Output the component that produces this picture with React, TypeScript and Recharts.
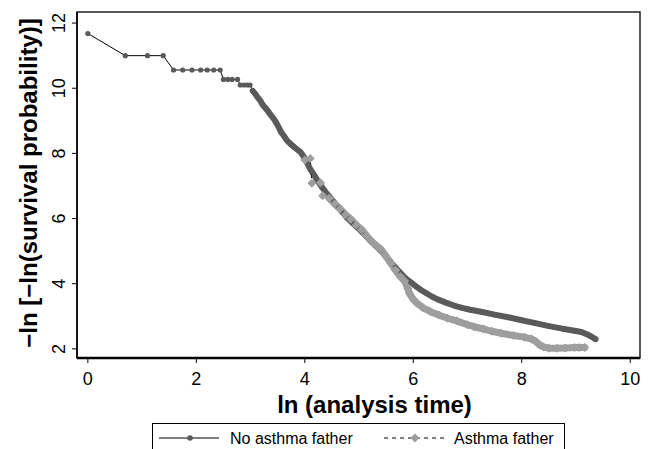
import React from 'react';
import { ComposedChart, Line, XAxis, YAxis, ReferenceArea } from 'recharts';

// ln(analysis time) and -ln[-ln(S)]
const noAsthmaTime = [
  0.0, 0.69, 1.1, 1.39, 1.58, 1.75, 1.92, 2.08, 2.2, 2.32, 2.44, 2.5, 2.58, 2.66, 2.76,
  2.81, 2.88, 2.94, 2.99, 3.04, 3.09, 3.13, 3.18, 3.22, 3.27, 3.32, 3.37, 3.42, 3.47,
  3.52, 3.56, 3.61, 3.67, 3.73, 3.8, 3.86, 3.92, 3.98, 4.04, 4.1, 4.17, 4.24, 4.31,
  4.38, 4.45, 4.53, 4.61, 4.7, 4.78, 4.87, 4.96, 5.05, 5.14, 5.22, 5.31, 5.4, 5.49,
  5.58, 5.67, 5.77, 5.86, 5.95, 6.05, 6.15, 6.25, 6.35, 6.45, 6.6, 6.75, 6.9, 7.05,
  7.25, 7.5, 7.75, 8.0, 8.25, 8.5, 8.75, 9.0, 9.1, 9.2, 9.28, 9.36,
];
const noAsthmaValue = [
  11.68, 11.0, 11.0, 11.0, 10.56, 10.56, 10.56, 10.56, 10.56, 10.56, 10.56, 10.27, 10.27,
  10.27, 10.27, 10.1, 10.1, 10.1, 10.1, 9.92, 9.82, 9.72, 9.62, 9.5, 9.4, 9.3, 9.18,
  9.08, 8.95, 8.8, 8.66, 8.55, 8.4, 8.3, 8.2, 8.12, 8.04, 7.9, 7.72, 7.52, 7.34, 7.15,
  6.98, 6.82, 6.68, 6.52, 6.36, 6.18, 6.02, 5.88, 5.74, 5.6, 5.44, 5.3, 5.16, 5.02,
  4.85, 4.67, 4.5, 4.32, 4.16, 4.05, 3.92, 3.8, 3.7, 3.6, 3.52, 3.42, 3.33, 3.26, 3.2,
  3.14, 3.05, 2.97, 2.88, 2.79, 2.7, 2.62, 2.55, 2.52, 2.45, 2.38, 2.3,
];
const asthmaTime = [
  4.0, 4.1, 4.13, 4.29, 4.33, 4.45, 4.55, 4.65, 4.75, 4.85, 4.95, 5.05, 5.15, 5.22,
  5.31, 5.4, 5.49, 5.58, 5.67, 5.76, 5.84, 5.9, 5.93, 6.0, 6.07, 6.18, 6.32, 6.47,
  6.63, 6.8, 7.0, 7.12, 7.3, 7.45, 7.62, 7.85, 8.05, 8.18, 8.25, 8.33, 8.4, 8.5, 8.65,
  8.8, 8.97, 9.06, 9.16,
];
const asthmaValue = [
  7.8, 7.84, 7.08, 7.1, 6.7, 6.62, 6.45, 6.3, 6.12, 5.98, 5.8, 5.66, 5.45, 5.32, 5.18,
  5.06, 4.86, 4.64, 4.42, 4.22, 4.08, 3.85, 3.7, 3.52, 3.4, 3.26, 3.14, 3.04, 2.94,
  2.86, 2.74, 2.68, 2.61, 2.54, 2.48, 2.41, 2.36, 2.3, 2.24, 2.12, 2.06, 2.02, 2.02,
  2.03, 2.04, 2.04, 2.04,
];
const seriesNames = ['No asthma father', 'Asthma father'];
const xTicks = [0, 2, 4, 6, 8, 10];
const yTicks = [2, 4, 6, 8, 10, 12];

const noAsthma = noAsthmaTime.map((x, i) => ({ x, y: noAsthmaValue[i] }));
const asthma = asthmaTime.map((x, i) => ({ x, y: asthmaValue[i] }));
// dense stretches where Stata's markers merge into a solid band
const noAsthmaBand = noAsthma.filter(d => d.x >= 3.0);
const asthmaBand = asthma.filter(d => d.x >= 4.4);

const DARK = '#5a5a5a';
const LIGHT = '#9e9e9e';
const FONT = 'Arial, "Liberation Sans", sans-serif';

const XTick = ({ x, y, payload }: any) => (
  <text x={x} y={y + 20} textAnchor="middle" fontFamily={FONT} fontSize={18} fill="#000">
    {payload.value}
  </text>
);

const YTick = ({ x, y, payload }: any) => (
  <text
    x={x - 5}
    y={y}
    transform={`rotate(-90, ${x - 5}, ${y})`}
    textAnchor="middle"
    fontFamily={FONT}
    fontSize={18}
    fill="#000"
  >
    {payload.value}
  </text>
);

const Diamond = ({ cx, cy, index }: any) => (
  <path
    key={`d-${index}`}
    d={`M${cx},${cy - 4.5} L${cx + 4.5},${cy} L${cx},${cy + 4.5} L${cx - 4.5},${cy} Z`}
    fill={LIGHT}
  />
);

const App = () => {
  return (
    <div style={{ position: 'absolute', left: 0, top: 0, background: '#fff' }}>
      <ComposedChart width={652} height={449} margin={{ top: 12, right: 12, left: 17, bottom: 61 }}>
        <XAxis
          type="number"
          dataKey="x"
          domain={[-0.2, 10.18]}
          ticks={xTicks}
          allowDataOverflow
          height={30}
          tickSize={5}
          tick={<XTick />}
          axisLine={{ stroke: '#000', strokeWidth: 2.5 }}
          tickLine={{ stroke: '#000' }}
        />
        <YAxis
          type="number"
          dataKey="y"
          domain={[1.72, 12.34]}
          ticks={yTicks}
          allowDataOverflow
          width={60}
          tickSize={5}
          tick={<YTick />}
          axisLine={{ stroke: '#000', strokeWidth: 1.5 }}
          tickLine={{ stroke: '#000' }}
        />
        <ReferenceArea
          x1={-0.2}
          x2={10.18}
          y1={1.72}
          y2={12.34}
          fill="none"
          stroke="#222"
          strokeWidth={1.5}
          ifOverflow="visible"
        />
        <Line
          data={noAsthma}
          dataKey="y"
          name={seriesNames[0]}
          stroke="#000"
          strokeWidth={1}
          dot={{ r: 2.6, fill: DARK, stroke: 'none' }}
          isAnimationActive={false}
        />
        <Line
          data={noAsthmaBand}
          dataKey="y"
          stroke={DARK}
          strokeWidth={6}
          strokeLinejoin="round"
          strokeLinecap="round"
          dot={false}
          legendType="none"
          isAnimationActive={false}
        />
        <Line
          data={asthma}
          dataKey="y"
          name={seriesNames[1]}
          stroke="#000"
          strokeWidth={1}
          strokeDasharray="4 3"
          dot={<Diamond />}
          isAnimationActive={false}
        />
        <Line
          data={asthmaBand}
          dataKey="y"
          stroke={LIGHT}
          strokeWidth={7}
          strokeLinejoin="round"
          strokeLinecap="round"
          dot={false}
          legendType="none"
          isAnimationActive={false}
        />
        <text x={374.5} y={413} textAnchor="middle" fontFamily={FONT} fontSize={24} fontWeight="bold" fill="#000">
          ln (analysis time)
        </text>
        <text
          x={37}
          y={183}
          transform="rotate(-90, 37, 183)"
          textAnchor="middle"
          fontFamily={FONT}
          fontSize={24}
          fontWeight="bold"
          fill="#000"
        >
          −ln [−ln(survival probability)]
        </text>
        <g>
          <rect x={152.5} y={423.5} width={412} height={40} fill="#fff" stroke="#000" strokeWidth={1} />
          <line x1={159} x2={219} y1={438} y2={438} stroke="#000" strokeWidth={1} />
          <circle cx={190} cy={438} r={2.8} fill={DARK} />
          <text x={230} y={444} fontFamily={FONT} fontSize={16} fill="#000">{seriesNames[0]}</text>
          <line x1={384} x2={446} y1={438} y2={438} stroke="#000" strokeWidth={1} strokeDasharray="4 4" />
          <path d="M415,433.5 L419.5,438 L415,442.5 L410.5,438 Z" fill={LIGHT} />
          <text x={454} y={444} fontFamily={FONT} fontSize={16} fill="#000">{seriesNames[1]}</text>
        </g>
      </ComposedChart>
    </div>
  );
};

export default App;
